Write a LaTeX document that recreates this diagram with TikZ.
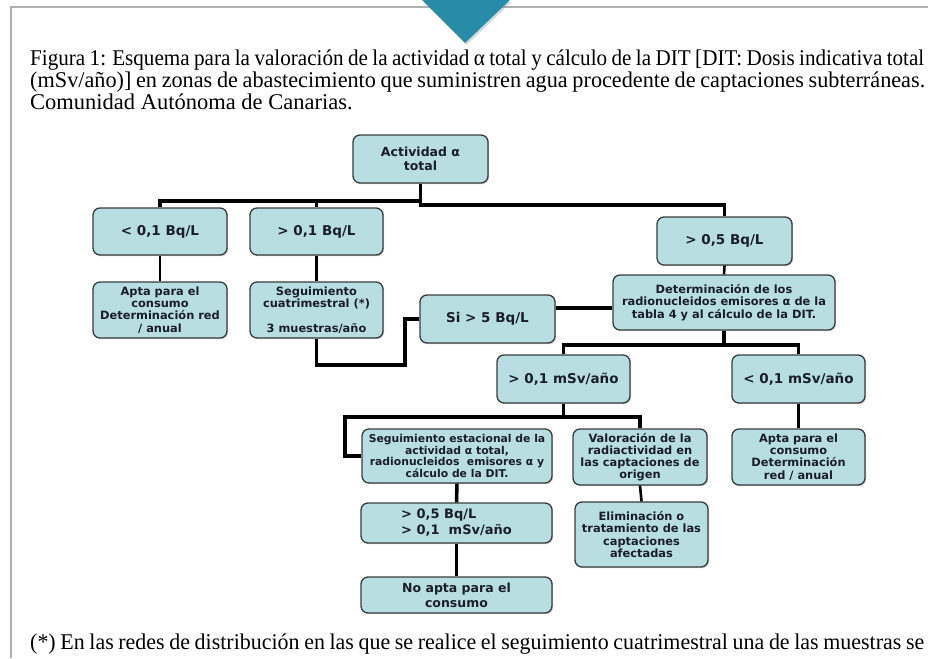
\documentclass[tikz,border=0pt]{standalone}
\usepackage{fontspec}
\setmainfont{Liberation Serif}
\newfontfamily\boxfont{DejaVu Sans}
\usetikzlibrary{shadows}
\definecolor{boxfill}{RGB}{184,222,226}
\definecolor{boxline}{RGB}{55,60,62}
\definecolor{tri}{RGB}{40,140,168}
\definecolor{framecol}{RGB}{175,175,175}
\definecolor{txt}{RGB}{25,30,40}
\newsavebox{\fitbox}
\newcommand{\fitline}[2]{{\spaceskip=0.21em\relax\sbox{\fitbox}{#2}\pgfmathsetmacro{\fitfac}{#1/\wd\fitbox}\scalebox{\fitfac}[1]{\usebox{\fitbox}}}}
\begin{document}
\begin{tikzpicture}[x=1pt,y=-1pt,
  box/.style={draw=boxline, line width=1.3pt, fill=boxfill, rounded corners=7pt,
    inner sep=0pt, align=center, text=txt,
    drop shadow={shadow xshift=1.2pt, shadow yshift=-1.2pt, opacity=0.35}},
  smalltxt/.style={font=\boxfont\bfseries\fontsize{11.4}{12.2}\selectfont},
  bigtxt/.style={font=\boxfont\bfseries\fontsize{13.5}{16}\selectfont},
  conn/.style={draw=black, line width=3.5pt},
  connthin/.style={draw=black, line width=2.6pt},
  captxt/.style={anchor=base west, inner sep=0pt, font=\fontsize{22.5}{22}\selectfont}
]
\useasboundingbox (0,0) rectangle (928,658);
\fill[white] (0,0) rectangle (928,658);
% frame
\draw[framecol, line width=1.4pt] (11,658) -- (11,7) -- (928,7);
% top triangle
\fill[tri, drop shadow={shadow xshift=1.5pt, shadow yshift=-2pt, opacity=0.3}] (422,0) -- (510,0) -- (465,43) -- cycle;

% caption
\node[captxt] (cap1) at (30,66) {\fitline{894pt}{Figura 1: Esquema para la valoración de la actividad α total y cálculo de la DIT [DIT: Dosis indicativa total}};
\node[captxt] (cap2) at (30,88) {\fitline{895pt}{(mSv/año)] en zonas de abastecimiento que suministren agua procedente de captaciones subterráneas.}};
\node[captxt] (cap3) at (30,109.5) {Comunidad Autónoma de Canarias.};
\node[captxt] (foot) at (30,649) {\fitline{894pt}{(*) En las redes de distribución en las que se realice el seguimiento cuatrimestral una de las muestras se}};

% boxes
\node[box, font=\boxfont\bfseries\fontsize{12.5}{14}\selectfont, minimum width=135pt, minimum height=48pt] (act) at (420.5,159) {Actividad α\\total};
\node[box, bigtxt, minimum width=134pt, minimum height=47pt] (b1) at (160,231.5) {< 0,1 Bq/L};
\node[box, bigtxt, minimum width=133pt, minimum height=47pt] (b2) at (316.5,231.5) {> 0,1 Bq/L};
\node[box, bigtxt, minimum width=135pt, minimum height=48pt] (b3) at (724.5,241) {> 0,5 Bq/L};
\node[box, smalltxt, minimum width=134pt, minimum height=56pt] (apta1) at (160,310) {Apta para el\\consumo\\Determinación red\\/ anual};
\node[box, smalltxt, minimum width=133pt, minimum height=56pt] (segc) at (316.5,310) {Seguimiento\\cuatrimestral (*)\\[12pt]3 muestras/año};
\node[box, bigtxt, minimum width=135pt, minimum height=48pt] (si) at (487.5,319) {Si > 5 Bq/L};
\node[box, smalltxt, minimum width=222pt, minimum height=55pt] (det) at (724,302.5) {Determinación de los\\radionucleidos emisores α de la\\tabla 4 y al cálculo de la DIT.};
\node[box, bigtxt, minimum width=133pt, minimum height=48pt] (m1) at (563.5,379) {> 0,1 mSv/año};
\node[box, bigtxt, minimum width=133pt, minimum height=48pt] (m2) at (798.5,379) {< 0,1 mSv/año};
\node[box, font=\boxfont\bfseries\fontsize{10.8}{11.8}\selectfont, minimum width=190pt, minimum height=54pt] (sege) at (457,456) {Seguimiento estacional de la\\actividad α total,\\radionucleidos\ \ emisores α y\\cálculo de la DIT.};
\node[box, smalltxt, minimum width=134pt, minimum height=56pt] (val) at (640,457) {Valoración de la\\radiactividad en\\las captaciones de\\origen};
\node[box, smalltxt, minimum width=133pt, minimum height=56pt] (apta2) at (798.5,457) {Apta para el\\consumo\\Determinación\\red / anual};
\node[box, font=\boxfont\bfseries\fontsize{13}{16}\selectfont, align=left, minimum width=191pt, minimum height=40pt] (comb) at (456.5,523) {> 0,5 Bq/L\\> 0,1\ \ mSv/año};
\node[box, smalltxt, minimum width=133pt, minimum height=65pt] (elim) at (641.5,534.5) {Eliminación o\\tratamiento de las\\captaciones\\afectadas};
\node[box, font=\boxfont\bfseries\fontsize{12.5}{15}\selectfont, minimum width=191pt, minimum height=36pt] (noapta) at (456.5,595) {No apta para el\\consumo};

% connectors
\draw[conn] (act.south) -- (act.south |- 0,205) -| (b3.north);
\draw[conn] (b1.north) -- (b1.north |- 0,201) -- (act.south |- 0,201);
\draw[conn] (b2.north) -- (b2.north |- 0,201);
\draw[connthin] (b1.south) -- (apta1.north);
\draw[conn] (b2.south) -- (segc.north);
\draw[conn] (segc.south) |- (405,365) |- (si.west);
\draw[conn] (si.east |- 0,308) -- (det.west |- 0,308);
\draw[connthin] (b3.south) -- (det.north);
\draw[conn] (det.south) -- (det.south |- 0,345);
\draw[conn] (m1.north) -- (m1.north |- 0,345) -- (m2.north |- 0,345) -- (m2.north);
\draw[conn] (m1.south) -- (m1.south |- 0,417);
\draw[conn] (val.north) -- (val.north |- 0,417) -- (345,417) |- (sege.west);
\draw[conn] (m2.south) -- (apta2.north);
\draw[conn] (sege.south) -- (comb.north);
\draw[connthin] (comb.south) -- (noapta.north);
\draw[connthin] (val.south) -- (elim.north);
\end{tikzpicture}
\end{document}
